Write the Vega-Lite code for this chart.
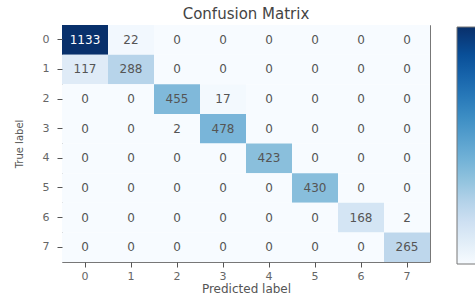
{
  "$schema": "https://vega.github.io/schema/vega-lite/v6.json",
  "width": 368,
  "height": 237,
  "autosize": {"type": "none"},
  "padding": {"left": 62, "top": 25, "right": 45, "bottom": 38},
  "background": "white",
  "title": {"text": "Confusion Matrix", "font": "DejaVu Sans", "fontSize": 15, "fontWeight": "normal", "color": "#444", "offset": 3},
  "config": {"view": {"stroke": "#777", "strokeWidth": 1}},
  "data": {"values": [
    {"t": 0, "p": 0, "v": 1133}, {"t": 0, "p": 1, "v": 22}, {"t": 0, "p": 2, "v": 0}, {"t": 0, "p": 3, "v": 0}, {"t": 0, "p": 4, "v": 0}, {"t": 0, "p": 5, "v": 0}, {"t": 0, "p": 6, "v": 0}, {"t": 0, "p": 7, "v": 0},
    {"t": 1, "p": 0, "v": 117}, {"t": 1, "p": 1, "v": 288}, {"t": 1, "p": 2, "v": 0}, {"t": 1, "p": 3, "v": 0}, {"t": 1, "p": 4, "v": 0}, {"t": 1, "p": 5, "v": 0}, {"t": 1, "p": 6, "v": 0}, {"t": 1, "p": 7, "v": 0},
    {"t": 2, "p": 0, "v": 0}, {"t": 2, "p": 1, "v": 0}, {"t": 2, "p": 2, "v": 455}, {"t": 2, "p": 3, "v": 17}, {"t": 2, "p": 4, "v": 0}, {"t": 2, "p": 5, "v": 0}, {"t": 2, "p": 6, "v": 0}, {"t": 2, "p": 7, "v": 0},
    {"t": 3, "p": 0, "v": 0}, {"t": 3, "p": 1, "v": 0}, {"t": 3, "p": 2, "v": 2}, {"t": 3, "p": 3, "v": 478}, {"t": 3, "p": 4, "v": 0}, {"t": 3, "p": 5, "v": 0}, {"t": 3, "p": 6, "v": 0}, {"t": 3, "p": 7, "v": 0},
    {"t": 4, "p": 0, "v": 0}, {"t": 4, "p": 1, "v": 0}, {"t": 4, "p": 2, "v": 0}, {"t": 4, "p": 3, "v": 0}, {"t": 4, "p": 4, "v": 423}, {"t": 4, "p": 5, "v": 0}, {"t": 4, "p": 6, "v": 0}, {"t": 4, "p": 7, "v": 0},
    {"t": 5, "p": 0, "v": 0}, {"t": 5, "p": 1, "v": 0}, {"t": 5, "p": 2, "v": 0}, {"t": 5, "p": 3, "v": 0}, {"t": 5, "p": 4, "v": 0}, {"t": 5, "p": 5, "v": 430}, {"t": 5, "p": 6, "v": 0}, {"t": 5, "p": 7, "v": 0},
    {"t": 6, "p": 0, "v": 0}, {"t": 6, "p": 1, "v": 0}, {"t": 6, "p": 2, "v": 0}, {"t": 6, "p": 3, "v": 0}, {"t": 6, "p": 4, "v": 0}, {"t": 6, "p": 5, "v": 0}, {"t": 6, "p": 6, "v": 168}, {"t": 6, "p": 7, "v": 2},
    {"t": 7, "p": 0, "v": 0}, {"t": 7, "p": 1, "v": 0}, {"t": 7, "p": 2, "v": 0}, {"t": 7, "p": 3, "v": 0}, {"t": 7, "p": 4, "v": 0}, {"t": 7, "p": 5, "v": 0}, {"t": 7, "p": 6, "v": 0}, {"t": 7, "p": 7, "v": 265}
  ]},
  "encoding": {
    "x": {"field": "p", "type": "ordinal", "scale": {"paddingInner": 0, "paddingOuter": 0},
      "axis": {"title": "Predicted label", "titleFont": "DejaVu Sans", "titleFontSize": 12, "titleFontWeight": "normal", "titleColor": "#555", "titlePadding": 2,
        "labelAngle": 0, "labelFont": "DejaVu Sans", "labelFontSize": 11, "labelColor": "#666", "labelPadding": 3, "domain": false, "tickColor": "#555", "tickSize": 5}},
    "y": {"field": "t", "type": "ordinal", "scale": {"paddingInner": 0, "paddingOuter": 0},
      "axis": {"title": "True label", "titleFont": "DejaVu Sans", "titleFontSize": 10, "titleFontWeight": "normal", "titleColor": "#555", "titlePadding": 18,
        "labelFont": "DejaVu Sans", "labelFontSize": 11, "labelColor": "#666", "labelPadding": 8, "domain": false, "tickColor": "#555", "tickSize": 5}}
  },
  "layer": [
    {
      "mark": {"type": "rect"},
      "encoding": {
        "color": {"field": "v", "type": "quantitative",
          "scale": {"domain": [0, 120, 240, 360, 520, 680, 840, 990, 1133],
                    "range": ["#f7fbff", "#deebf7", "#c6dbef", "#9ecae1", "#6baed6", "#4292c6", "#2171b5", "#08519c", "#08306b"]},
          "legend": {"orient": "none", "legendX": 395, "legendY": 2, "direction": "vertical", "gradientLength": 237, "gradientThickness": 30,
            "labels": false, "labelExpr": "''", "title": null, "gradientStrokeColor": "#777", "gradientStrokeWidth": 1}}
      }
    },
    {
      "mark": {"type": "text", "font": "DejaVu Sans", "fontSize": 12},
      "encoding": {
        "text": {"field": "v", "type": "quantitative"},
        "color": {"condition": {"test": "datum.v > 566", "value": "white"}, "value": "#555"}
      }
    }
  ]
}
